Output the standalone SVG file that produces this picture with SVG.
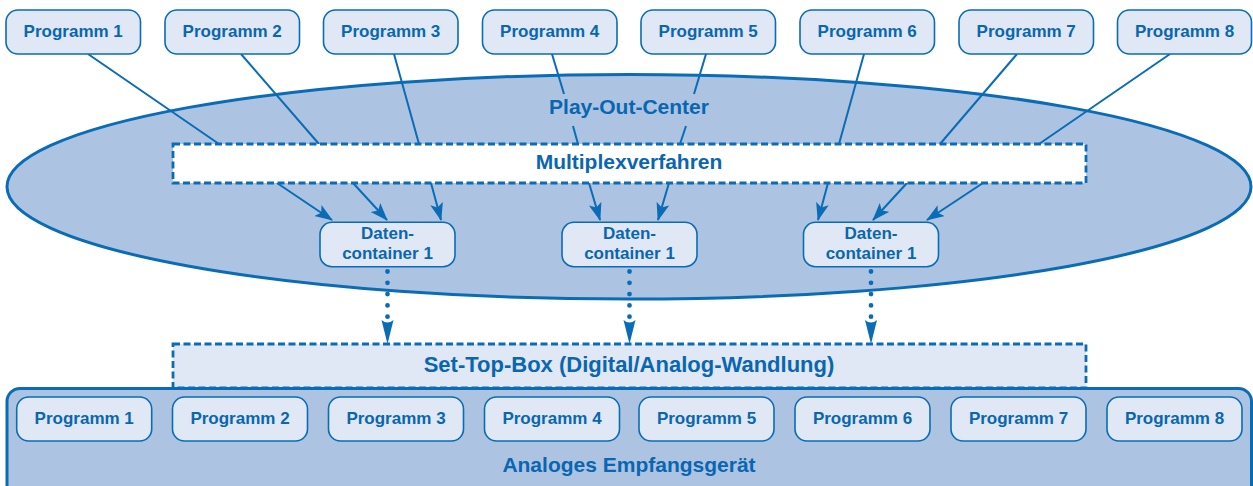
<svg xmlns="http://www.w3.org/2000/svg" width="1253" height="486" viewBox="0 0 1253 486">
  <style>
    .box { fill: #dfe8f4; stroke: #0a6cb5; stroke-width: 1.6; }
    .lbl { font-family: "Liberation Sans", Arial, sans-serif; font-weight: bold; fill: #0a66b0; text-anchor: middle; }
    .s17 { font-size: 17px; }
    .s21 { font-size: 21px; }
    .s22 { font-size: 22px; }
    .wire { stroke: #0a6cb5; stroke-width: 2; fill: none; }
    .dash { stroke: #0a6cb5; stroke-width: 2.8; stroke-dasharray: 7 3.5; }
    .dots { stroke: #0a6cb5; stroke-width: 4.8; stroke-linecap: round; stroke-dasharray: 0 11.3; fill: none; }
    .head { fill: #0a6cb5; }
  </style>
  <defs>
    <marker id="arr" markerUnits="userSpaceOnUse" markerWidth="20" markerHeight="14" refX="17" refY="6.5" orient="auto">
      <path d="M18,6.5 L0,0 L4,6.5 L0,13 Z" class="head"/>
    </marker>
    <path id="spear" d="M-6,0 Q0,5 6,0 L0,24 Z" class="head"/>
  </defs>

  <rect width="1253" height="486" fill="#ffffff"/>

  <!-- Play-Out-Center -->
  <g id="playout">
    <ellipse cx="629" cy="186.8" rx="622" ry="112.3" fill="#adc3e2" stroke="#0a6cb5" stroke-width="3"/>
    <text class="lbl s21" x="629" y="114">Play-Out-Center</text>
  </g>

  <!-- lines from the sources into the multiplexer -->
  <g id="connectors">
    <line class="wire" x1="88" y1="54" x2="219" y2="144"/>
    <line class="wire" x1="241" y1="54" x2="319" y2="144"/>
    <line class="wire" x1="394" y1="54" x2="419" y2="144"/>
    <line class="wire" x1="552" y1="54" x2="564" y2="94"/>
    <line class="wire" x1="573" y1="126" x2="578" y2="144"/>
    <line class="wire" x1="706" y1="54" x2="694" y2="94"/>
    <line class="wire" x1="686" y1="126" x2="680" y2="144"/>
    <line class="wire" x1="864" y1="54" x2="839" y2="144"/>
    <line class="wire" x1="1017" y1="54" x2="940" y2="144"/>
    <line class="wire" x1="1170" y1="54" x2="1039" y2="144"/>

    <!-- multiplexer to data containers -->
    <line class="wire" x1="277" y1="183" x2="332" y2="220" marker-end="url(#arr)"/>
    <line class="wire" x1="353" y1="183" x2="387" y2="220" marker-end="url(#arr)"/>
    <line class="wire" x1="431" y1="183" x2="441" y2="220" marker-end="url(#arr)"/>
    <line class="wire" x1="589" y1="183" x2="600" y2="220" marker-end="url(#arr)"/>
    <line class="wire" x1="669" y1="183" x2="658" y2="220" marker-end="url(#arr)"/>
    <line class="wire" x1="828" y1="183" x2="818" y2="220" marker-end="url(#arr)"/>
    <line class="wire" x1="907" y1="183" x2="873" y2="220" marker-end="url(#arr)"/>
    <line class="wire" x1="983" y1="183" x2="927" y2="220" marker-end="url(#arr)"/>

    <!-- transmission to the set-top box -->
    <line class="dots" x1="387.5" y1="271.5" x2="387.5" y2="317"/>
    <use href="#spear" x="387.5" y="320"/>
    <line class="dots" x1="629.5" y1="271.5" x2="629.5" y2="317"/>
    <use href="#spear" x="629.5" y="320"/>
    <line class="dots" x1="871" y1="271.5" x2="871" y2="317"/>
    <use href="#spear" x="871" y="320"/>
  </g>

  <!-- Multiplexverfahren -->
  <g id="multiplex">
    <rect class="dash" x="173" y="144" width="913" height="39" fill="#ffffff"/>
    <text class="lbl s21" x="629" y="169">Multiplexverfahren</text>
  </g>

  <!-- source programmes -->
  <g id="src1"><rect class="box" x="6" y="10" width="134.5" height="44" rx="12"/><text class="lbl s17" x="73.2" y="37.3">Programm 1</text></g>
  <g id="src2"><rect class="box" x="165" y="10" width="134.5" height="44" rx="12"/><text class="lbl s17" x="232.2" y="37.3">Programm 2</text></g>
  <g id="src3"><rect class="box" x="323.5" y="10" width="134.5" height="44" rx="12"/><text class="lbl s17" x="390.7" y="37.3">Programm 3</text></g>
  <g id="src4"><rect class="box" x="482.5" y="10" width="134.5" height="44" rx="12"/><text class="lbl s17" x="549.7" y="37.3">Programm 4</text></g>
  <g id="src5"><rect class="box" x="641" y="10" width="134.5" height="44" rx="12"/><text class="lbl s17" x="708.2" y="37.3">Programm 5</text></g>
  <g id="src6"><rect class="box" x="800" y="10" width="134.5" height="44" rx="12"/><text class="lbl s17" x="867.2" y="37.3">Programm 6</text></g>
  <g id="src7"><rect class="box" x="959" y="10" width="134.5" height="44" rx="12"/><text class="lbl s17" x="1026.2" y="37.3">Programm 7</text></g>
  <g id="src8"><rect class="box" x="1117.5" y="10" width="134" height="44" rx="12"/><text class="lbl s17" x="1184.5" y="37.3">Programm 8</text></g>

  <!-- data containers -->
  <g id="cont1"><rect class="box" x="320" y="222.3" width="135" height="44.4" rx="12"/><text class="lbl s17" x="387.5" y="239.3">Daten-</text><text class="lbl s17" x="387.5" y="259">container 1</text></g>
  <g id="cont2"><rect class="box" x="562" y="222.3" width="135" height="44.4" rx="12"/><text class="lbl s17" x="629.5" y="239.3">Daten-</text><text class="lbl s17" x="629.5" y="259">container 1</text></g>
  <g id="cont3"><rect class="box" x="803.5" y="222.3" width="135" height="44.4" rx="12"/><text class="lbl s17" x="871" y="239.3">Daten-</text><text class="lbl s17" x="871" y="259">container 1</text></g>

  <!-- Set-Top-Box -->
  <g id="settop">
    <rect class="dash" x="173" y="344" width="913" height="44" fill="#dfe8f4"/>
    <text class="lbl s22" x="629" y="372">Set-Top-Box (Digital/Analog-Wandlung)</text>
  </g>

  <!-- Analoges Empfangsgerät -->
  <g id="receiver">
    <rect x="7" y="388.5" width="1244.5" height="120" rx="13" fill="#adc3e2" stroke="#0a6cb5" stroke-width="3"/>
    <text class="lbl s21" x="629" y="472">Analoges Empfangsgerät</text>
  </g>

  <!-- output programmes -->
  <g id="out1"><rect class="box" x="16.7" y="397" width="135" height="44" rx="12"/><text class="lbl s17" x="84.2" y="424">Programm 1</text></g>
  <g id="out2"><rect class="box" x="172.5" y="397" width="135" height="44" rx="12"/><text class="lbl s17" x="240" y="424">Programm 2</text></g>
  <g id="out3"><rect class="box" x="328.5" y="397" width="135" height="44" rx="12"/><text class="lbl s17" x="396" y="424">Programm 3</text></g>
  <g id="out4"><rect class="box" x="484.5" y="397" width="135" height="44" rx="12"/><text class="lbl s17" x="552" y="424">Programm 4</text></g>
  <g id="out5"><rect class="box" x="639" y="397" width="135" height="44" rx="12"/><text class="lbl s17" x="706.5" y="424">Programm 5</text></g>
  <g id="out6"><rect class="box" x="795" y="397" width="135" height="44" rx="12"/><text class="lbl s17" x="862.5" y="424">Programm 6</text></g>
  <g id="out7"><rect class="box" x="951" y="397" width="135" height="44" rx="12"/><text class="lbl s17" x="1018.5" y="424">Programm 7</text></g>
  <g id="out8"><rect class="box" x="1107" y="397" width="135" height="44" rx="12"/><text class="lbl s17" x="1174.5" y="424">Programm 8</text></g>
</svg>
